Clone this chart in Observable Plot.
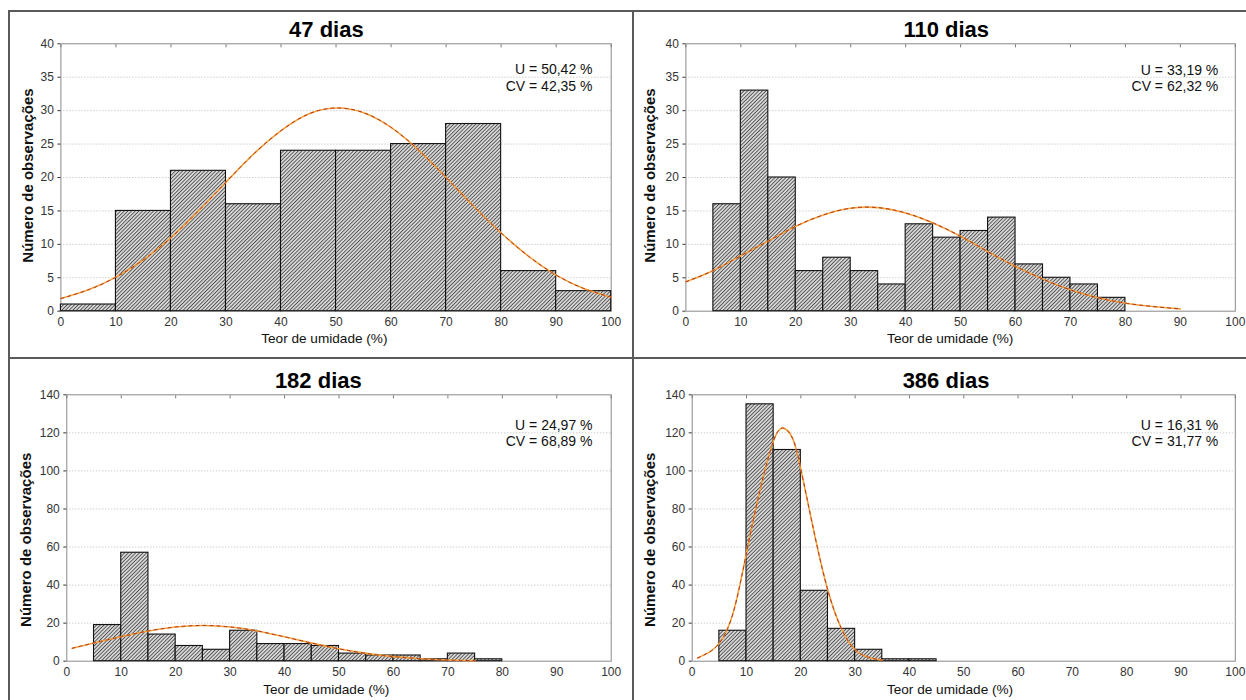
<!DOCTYPE html>
<html><head><meta charset="utf-8">
<script src="https://cdn.jsdelivr.net/npm/d3@7"></script>
<script src="https://cdn.jsdelivr.net/npm/@observablehq/plot@0.6"></script>
<style>
body{margin:0;background:#fff;}
#page{position:relative;width:1246px;height:700px;overflow:hidden;font-family:"Liberation Sans",Arial,sans-serif;background:#fff;}
.panel{position:absolute;}
.rule{position:absolute;background:#5a5a5a;z-index:5;}
</style></head><body>
<svg width="0" height="0" style="position:absolute">
  <defs>
    <pattern id="hatch" patternUnits="userSpaceOnUse" width="2.6" height="2.6" patternTransform="rotate(45)">
      <rect width="2.6" height="2.6" fill="#d9d9d9"/>
      <line x1="0.45" y1="0" x2="0.45" y2="2.6" stroke="#505050" stroke-width="0.9"/>
    </pattern>
  </defs>
</svg>
<div id="page"></div>
<script>
// ---------------- DATA ----------------
const xLabel = "Teor de umidade (%)";
const yLabel = "Número de observações";
const xTicks = [0,10,20,30,40,50,60,70,80,90,100];
const yTicksSmall = [0,5,10,15,20,25,30,35,40];
const yTicksLarge = [0,20,40,60,80,100,120,140];

// 47 dias
const title47 = "47 dias";
const stats47 = ["U = 50,42 %", "CV = 42,35 %"];
const edges47 = [0,10,20,30,40,50,60,70,80,90,100];
const counts47 = [1,15,21,16,24,24,25,28,6,3];
const curveX47 = [0,5,10,15,20,25,30,35,40,45,50,55,60,65,70,75,80,85,90,95,100];
const curveY47 = [1.9,3.2,5.1,7.7,11.0,15.0,19.3,23.5,27.0,29.5,30.4,29.7,27.5,24.1,20.0,15.7,11.7,8.2,5.4,3.4,2.1];

// 110 dias
const title110 = "110 dias";
const stats110 = ["U = 33,19 %", "CV = 62,32 %"];
const edges110 = [0,5,10,15,20,25,30,35,40,45,50,55,60,65,70,75,80];
const counts110 = [0,16,33,20,6,8,6,4,13,11,12,14,7,5,4,2];
const curveX110 = [0,5,10,15,20,25,30,35,40,45,50,55,60,65,70,75,80,85,90];
const curveY110 = [4.4,6.1,8.3,10.5,12.7,14.4,15.4,15.5,14.7,13.2,11.2,8.9,6.7,4.8,3.2,2.0,1.2,0.7,0.35];

// 182 dias
const title182 = "182 dias";
const stats182 = ["U = 24,97 %", "CV = 68,89 %"];
const edges182 = [0,5,10,15,20,25,30,35,40,45,50,55,60,65,70,75,80];
const counts182 = [0,19,57,14,8,6,16,9,9,8,4,3,3,1,4,1];
const curveX182 = [1,5,10,15,20,25,30,35,40,45,50,55,60,65,70,75];
const curveY182 = [6.8,9.6,12.9,15.9,18.0,18.8,18.0,15.9,12.8,9.5,6.5,4.1,2.4,1.3,0.6,0.3];

// 386 dias
const title386 = "386 dias";
const stats386 = ["U = 16,31 %", "CV = 31,77 %"];
const edges386 = [0,5,10,15,20,25,30,35,40,45];
const counts386 = [0,16,135,111,37,17,6,1,1];
const curveX386 = [1,3,5,7.5,10,12.5,15,16.8,18.5,20,22.5,25,27.5,30,32.5,35];
const curveY386 = [1.7,4.5,9.5,25,57,90,116,122.5,117,101,67,37,17,6,2,0.5];

// ---------------- LAYOUT ----------------
const panels = [
  {title: title47, stats: stats47, edges: edges47, counts: counts47, cx: curveX47, cy: curveY47, yTicks: yTicksSmall,
   left: 0, top: 0, width: 632, height: 357, m: [43.3, 21.3, 46.3, 60.4],
   t: [-9.7, -14], s: [-18.7, 33.4], xl: [-11.7, 27.6], yl: [-32.6, -2]},
  {title: title110, stats: stats110, edges: edges110, counts: counts110, cx: curveX110, cy: curveY110, yTicks: yTicksSmall,
   left: 632, top: 0, width: 614, height: 357, m: [43.3, 11.2, 46.3, 53.4],
   t: [-14.4, -14], s: [-17, 33.7], xl: [-10.4, 27.6], yl: [-35.4, -2]},
  {title: title182, stats: stats182, edges: edges182, counts: counts182, cx: curveX182, cy: curveY182, yTicks: yTicksLarge,
   left: 0, top: 357, width: 632, height: 343, m: [37.3, 21.3, 39.3, 66.3],
   t: [-20.7, -13.6], s: [-18.7, 38], xl: [-12.7, 28.6], yl: [-40.3, 11.8]},
  {title: title386, stats: stats386, edges: edges386, counts: counts386, cx: curveX386, cy: curveY386, yTicks: yTicksLarge,
   left: 632, top: 357, width: 614, height: 343, m: [37.3, 11.2, 39.3, 59.7],
   t: [-17.7, -13.6], s: [-17, 38], xl: [-13.7, 28.6], yl: [-41.7, 11.8]}
];

const page = document.getElementById("page");

function makePanel(p) {
  const bars = p.counts.map((c, i) => ({x1: p.edges[i], x2: p.edges[i + 1], y0: 0, y: c}));
  const curve = p.cx.map((x, i) => ({x, y: p.cy[i]}));
  const yMax = p.yTicks[p.yTicks.length - 1];
  const grid = p.yTicks.filter(v => v > 0 && v < yMax);
  return Plot.plot({
    width: p.width, height: p.height,
    marginTop: p.m[0], marginRight: p.m[1], marginBottom: p.m[2], marginLeft: p.m[3],
    style: {background: "transparent", fontFamily: "Liberation Sans, Arial, sans-serif", fontSize: "12px", color: "#333"},
    x: {domain: [0, 100]},
    y: {domain: [0, yMax]},
    marks: [
      Plot.ruleY(grid, {stroke: "#b8b8b8", strokeDasharray: "1,2", strokeWidth: 1}),
      Plot.frame({stroke: "#8a8a8a", strokeWidth: 1}),
      Plot.axisY({ticks: p.yTicks, tickSize: 3, tickPadding: 4, label: null, color: "#333", fontSize: 12}),
      Plot.axisX({ticks: xTicks, tickSize: 0, tickPadding: 6, label: null, color: "#333", fontSize: 12}),
      Plot.axisX({anchor: "top", ticks: xTicks, tickSize: -3, tickFormat: () => "", label: null, stroke: "#777"}),
      Plot.rect(bars, {x1: "x1", x2: "x2", y1: "y0", y2: "y", fill: "url(#hatch)", stroke: "#111", strokeWidth: 1.1}),
      Plot.line(curve, {x: "x", y: "y", stroke: "#f2a43a", strokeWidth: 1.6, curve: "natural"}),
      Plot.line(curve, {x: "x", y: "y", stroke: "#b5301e", strokeWidth: 1, strokeDasharray: "3,4", curve: "natural"}),
      Plot.text([p.title], {text: d => d, frameAnchor: "top", lineAnchor: "middle", textAnchor: "middle", dx: p.t[0], dy: p.t[1], fontSize: 22, fontWeight: "bold", fill: "#000", letterSpacing: 0.6}),
      Plot.text([p.stats.join("\n")], {text: d => d, frameAnchor: "top-right", textAnchor: "end", lineAnchor: "middle", lineHeight: 1.19, dx: p.s[0], dy: p.s[1], fontSize: 14, fill: "#111"}),
      Plot.text([xLabel], {text: d => d, frameAnchor: "bottom", lineAnchor: "middle", textAnchor: "middle", dx: p.xl[0], dy: p.xl[1], fontSize: 13.6, fill: "#111"}),
      Plot.text([yLabel], {text: d => d, frameAnchor: "left", lineAnchor: "middle", textAnchor: "middle", rotate: -90, dx: p.yl[0], dy: p.yl[1], fontSize: 15, fontWeight: "bold", fill: "#111"})
    ]
  });
}

for (const p of panels) {
  const div = document.createElement("div");
  div.className = "panel";
  div.style.left = p.left + "px";
  div.style.top = p.top + "px";
  div.style.width = p.width + "px";
  div.style.height = p.height + "px";
  div.appendChild(makePanel(p));
  page.appendChild(div);
}

// frame lines of the composite figure
const rules = [
  {l: 8, t: 10, w: 1238, h: 1.5},
  {l: 8, t: 10, w: 1.5, h: 690},
  {l: 632, t: 10, w: 1.5, h: 690},
  {l: 8, t: 357, w: 1238, h: 1.5}
];
for (const r of rules) {
  const d = document.createElement("div");
  d.className = "rule";
  d.style.left = r.l + "px"; d.style.top = r.t + "px";
  d.style.width = r.w + "px"; d.style.height = r.h + "px";
  page.appendChild(d);
}
</script>
</body></html>
